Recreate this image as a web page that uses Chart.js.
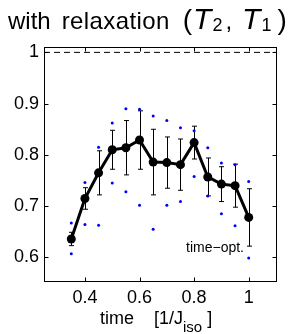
<!DOCTYPE html>
<html>
<head>
<meta charset="utf-8">
<script src="https://cdn.jsdelivr.net/npm/chart.js@4/dist/chart.umd.min.js"></script>
<style>
  html, body { margin: 0; padding: 0; background: #fff; }
  #wrap { position: relative; width: 300px; height: 334px; overflow: hidden; font-family: 'Liberation Sans', Arial, sans-serif; color: #000; }
  #fidChart { position: absolute; left: 0; top: 0; }
  .lbl { position: absolute; white-space: nowrap; }
  .sub { position: relative; }
  #title { left: 8px; top: 7px; font-size: 24px; line-height: 24px; }
  #title .w2 { margin-left: 11px; letter-spacing: 0.4px; }
  #title .par { font-size: 28px; }
  #title i { font-size: 30px; }
  #title .sub { font-size: 18px; top: 2px; }
  #xlabel { left: 100px; top: 309px; font-size: 18px; line-height: 18px; }
  #xlabel .sub { font-size: 15px; top: 8px; }
  #note { right: 56px; top: 240px; font-size: 14px; line-height: 14px; }
</style>
</head>
<body>
<div id="wrap">
  <canvas id="fidChart" width="300" height="334"></canvas>
  <div class="lbl" id="title">with<span class="w2">relaxation</span><span class="par" style="margin-left:13px">(</span><i style="margin-left:1px">T</i><span class="sub" style="margin-left:1px">2</span><span style="margin-left:3px">,</span><i style="margin-left:10px">T</i><span class="sub" style="margin-left:1px">1</span><span class="par" style="margin-left:6px">)</span></div>
  <div class="lbl" id="xlabel">time<span style="margin-left:20px">[1/J</span><span class="sub">iso</span><span style="margin-left:5px">]</span></div>
  <div class="lbl" id="note">time&minus;opt.</div>
</div>
<script>
// duration of the sequence (units of 1/J_iso)
const times = [0.35, 0.40, 0.45, 0.50, 0.55, 0.60, 0.65, 0.70, 0.75, 0.80, 0.85, 0.90, 0.95, 1.00];
// mean fidelity and its spread (error bar half-width)
const meanFidelity = [0.636, 0.715, 0.765, 0.810, 0.814, 0.829, 0.786, 0.785, 0.781, 0.824, 0.757, 0.743, 0.740, 0.678];
const fidelityErr = [0.013, 0.021, 0.043, 0.038, 0.053, 0.057, 0.064, 0.050, 0.050, 0.032, 0.037, 0.034, 0.042, 0.056];
// best / worst individual runs (blue dots)
const maxFidelity = [0.667, 0.746, 0.815, 0.862, 0.890, 0.889, 0.876, 0.867, 0.853, 0.847, 0.814, 0.784, 0.781, 0.748];
const minFidelity = [0.607, 0.664, 0.663, 0.745, 0.728, 0.702, 0.655, 0.702, 0.709, 0.758, 0.720, 0.685, 0.662, 0.599];
// ideal fidelity (dashed line)
const idealLevel = 1;

const xTicks = [0.4, 0.6, 0.8, 1];
const yTicks = [0.6, 0.7, 0.8, 0.9, 1];
const xRange = [0.25, 1.1];
const yRange = [0.554, 1.0105];

const tickFont = { family: "'Liberation Sans', Arial, sans-serif", size: 18 };

// matlab-like box with ticks pointing inwards, plus the error bars
const boxPlugin = {
    id: 'matlabBox',
    beforeDatasetsDraw(chart) {
        const { ctx, scales: { x, y } } = chart;
        ctx.save();
        ctx.strokeStyle = '#000';
        ctx.lineWidth = 1;
        times.forEach((t, i) => {
            const px = Math.round(x.getPixelForValue(t)) + 0.5;
            const top = y.getPixelForValue(meanFidelity[i] + fidelityErr[i]);
            const bot = y.getPixelForValue(meanFidelity[i] - fidelityErr[i]);
            ctx.beginPath();
            ctx.moveTo(px, top); ctx.lineTo(px, bot);
            ctx.moveTo(px - 2.5, top); ctx.lineTo(px + 2.5, top);
            ctx.moveTo(px - 2.5, bot); ctx.lineTo(px + 2.5, bot);
            ctx.stroke();
        });
        ctx.restore();
    },
    afterDraw(chart) {
        const { ctx, chartArea: a, scales: { x, y } } = chart;
        const L = Math.round(a.left) + 0.5, R = Math.round(a.right) + 0.5;
        const T = Math.round(a.top) + 0.5, B = Math.round(a.bottom) + 0.5;
        const len = 4;
        ctx.save();
        ctx.strokeStyle = '#000';
        ctx.lineWidth = 1;
        ctx.strokeRect(L, T, R - L, B - T);
        ctx.beginPath();
        x.ticks.forEach(tk => {
            const px = Math.round(x.getPixelForValue(tk.value)) + 0.5;
            ctx.moveTo(px, B); ctx.lineTo(px, B - len);
            ctx.moveTo(px, T); ctx.lineTo(px, T + len);
        });
        y.ticks.forEach(tk => {
            const py = Math.round(y.getPixelForValue(tk.value)) + 0.5;
            ctx.moveTo(L, py); ctx.lineTo(L + len, py);
            ctx.moveTo(R, py); ctx.lineTo(R - len, py);
        });
        ctx.stroke();
        ctx.restore();
    }
};

const ctx = document.getElementById('fidChart');

new Chart(ctx, {
    type: 'line',
    data: {
        datasets: [
            {
                label: 'mean',
                data: times.map((t, i) => ({ x: t, y: meanFidelity[i] })),
                borderColor: '#000',
                backgroundColor: '#000',
                borderWidth: 3,
                pointRadius: 4.5,
                pointBorderWidth: 0,
                tension: 0
            },
            {
                label: 'max',
                data: times.map((t, i) => ({ x: t, y: maxFidelity[i] })),
                showLine: false,
                pointRadius: 1.5,
                pointBorderWidth: 0,
                backgroundColor: '#0000ff'
            },
            {
                label: 'min',
                data: times.map((t, i) => ({ x: t, y: minFidelity[i] })),
                showLine: false,
                pointRadius: 1.5,
                pointBorderWidth: 0,
                backgroundColor: '#0000ff'
            },
            {
                label: 'ideal',
                data: xRange.map(v => ({ x: v, y: idealLevel })),
                borderColor: '#000',
                borderWidth: 1,
                borderDash: [6, 4],
                pointRadius: 0
            }
        ]
    },
    options: {
        responsive: false,
        animation: false,
        events: [],
        layout: { padding: { top: 47, right: 24, bottom: 0, left: 0 } },
        plugins: {
            legend: { display: false },
            tooltip: { enabled: false }
        },
        scales: {
            x: {
                type: 'linear',
                min: xRange[0],
                max: xRange[1],
                afterBuildTicks: s => { s.ticks = xTicks.map(v => ({ value: v })); },
                afterFit: s => { s.height = 53; },
                grid: { display: false, drawTicks: false },
                border: { display: false },
                ticks: { font: tickFont, color: '#000', padding: 6, maxRotation: 0, callback: v => String(v) }
            },
            y: {
                type: 'linear',
                min: yRange[0],
                max: yRange[1],
                afterBuildTicks: s => { s.ticks = yTicks.map(v => ({ value: v })); },
                afterFit: s => { s.width = 44; },
                grid: { display: false, drawTicks: false },
                border: { display: false },
                ticks: { font: tickFont, color: '#000', padding: 5, callback: v => String(v) }
            }
        }
    },
    plugins: [boxPlugin]
});
</script>
</body>
</html>
